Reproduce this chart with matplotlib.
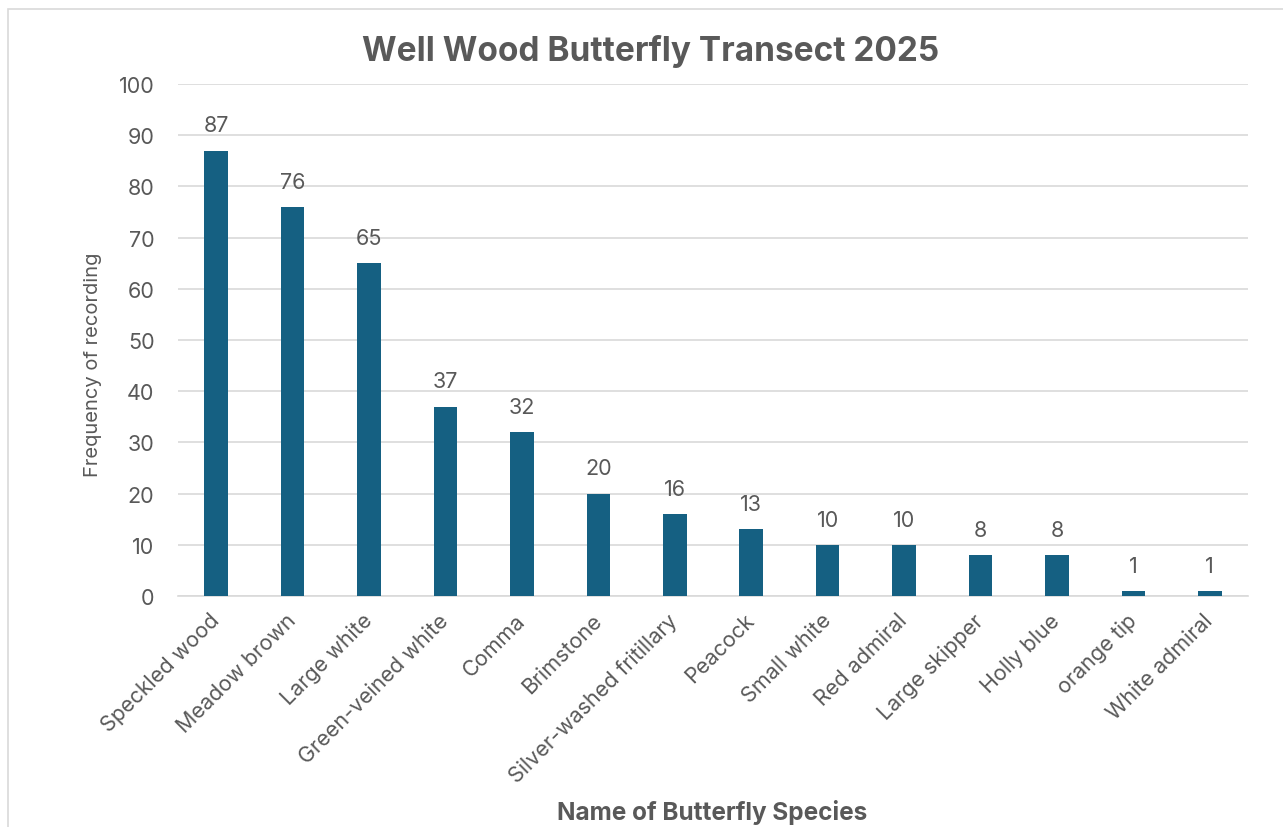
import matplotlib.pyplot as plt
from matplotlib.patches import Rectangle

# data
species = ['Speckled wood', 'Meadow brown', 'Large white', 'Green-veined white',
           'Comma', 'Brimstone', 'Silver-washed fritillary', 'Peacock',
           'Small white', 'Red admiral', 'Large skipper', 'Holly blue',
           'orange tip', 'White admiral']
counts = [87, 76, 65, 37, 32, 20, 16, 13, 10, 10, 8, 8, 1, 1]
yticks = [0, 10, 20, 30, 40, 50, 60, 70, 80, 90, 100]

TXT = '#595959'
BAR = '#156082'
GRID = '#D9D9D9'

plt.rcParams['font.family'] = ['Inter', 'DejaVu Sans']

fig = plt.figure(figsize=(12.83, 8.28), dpi=100)
W, H = 1283, 828
# light outer chart border (left and top visible)
fig.patches.append(Rectangle((7.5 / W, -0.1), 1.2, 1 - 9.5 / H + 0.1,
                             transform=fig.transFigure, fill=False,
                             edgecolor=GRID, linewidth=1.2))

ax = fig.add_axes([178 / W, 1 - 597 / H, (1248 - 178) / W, (597 - 85) / H])
x = range(len(species))
bars = ax.bar(x, counts, width=0.31, color=BAR, zorder=3)
ax.bar_label(bars, padding=11, fontsize=15.5, color=TXT)

ax.set_xlim(-0.5, len(species) - 0.5)
ax.set_ylim(0, 100)
ax.set_yticks(yticks)
ax.grid(axis='y', color=GRID, linewidth=1.2, zorder=0)
for s in ['top', 'right', 'left']:
    ax.spines[s].set_visible(False)
ax.spines['bottom'].set_color(GRID)
ax.spines['bottom'].set_linewidth(1.2)
ax.tick_params(axis='both', length=0, labelsize=15.5, labelcolor=TXT)
ax.tick_params(axis='y', pad=17)
ax.set_xticks(list(x))
ax.set_xticklabels(species, rotation=45, ha='right', va='center',
                   rotation_mode='anchor')
ax.tick_params(axis='x', pad=15)

fig.text(93 / W, 1 - 365 / H, 'Frequency of recording', fontsize=14.5,
         color=TXT, rotation=90, ha='center', va='center')
fig.text(712 / W, 1 - 813 / H, 'Name of Butterfly Species', fontsize=17.5,
         fontweight='bold', color=TXT, ha='center', va='center')
fig.text(651 / W, 1 - 52 / H, 'Well Wood Butterfly Transect 2025', fontsize=24,
         fontweight='bold', color=TXT, ha='center', va='center')

fig.savefig('out.png', dpi=100)
